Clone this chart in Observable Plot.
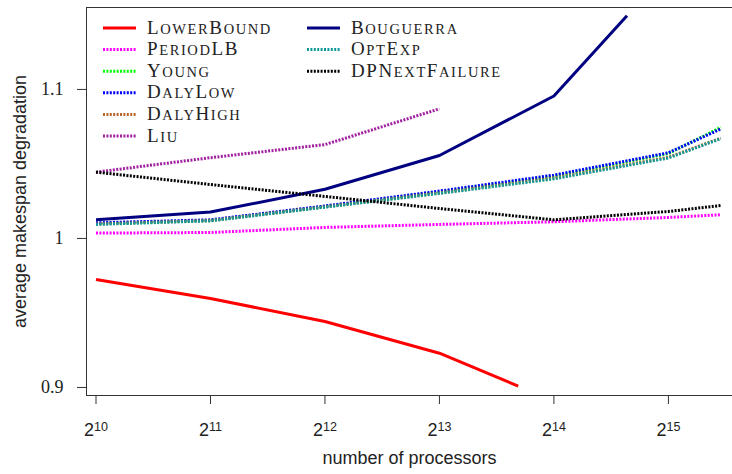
<!DOCTYPE html>
<html>
<head>
<meta charset="utf-8">
<script src="https://cdn.jsdelivr.net/npm/d3@7"></script>
<script src="https://cdn.jsdelivr.net/npm/@observablehq/plot@0.6"></script>
<style>
  body { margin: 0; background: #fff; }
</style>
</head>
<body>
<div id="chart"></div>
<script>
// ---- data ----
const processors = [1024, 2048, 4096, 8192, 16384, 32768, 45000];
const lowerBoundX = [1024, 2048, 4096, 8192, 13200];
const bouguerraX = [1024, 2048, 4096, 8192, 16384, 25500];
const liuX = [1024, 2048, 4096, 8192];

const lowerBound = [0.9725, 0.9597, 0.9443, 0.9230, 0.9009];
const periodLB = [1.0036, 1.0040, 1.0074, 1.0094, 1.0112, 1.0141, 1.0159];
const young = [1.0099, 1.0121, 1.0215, 1.0312, 1.0418, 1.0570, 1.0745];
const dalyLow = [1.0105, 1.0125, 1.0218, 1.0318, 1.0425, 1.0575, 1.0735];
const dalyHigh = [1.0097, 1.0120, 1.0212, 1.0305, 1.0405, 1.0545, 1.0673];
const liu = [1.0445, 1.0542, 1.0630, 1.0870];
const bouguerra = [1.0125, 1.0177, 1.0330, 1.0557, 1.0956, 1.1495];
const optExp = [1.0094, 1.0118, 1.0210, 1.0302, 1.0400, 1.0540, 1.0670];
const dpNextFailure = [1.0445, 1.0362, 1.0282, 1.0201, 1.0125, 1.0181, 1.0221];

const xTicks = [1024, 2048, 4096, 8192, 16384, 32768];
const yTicks = [0.9, 1, 1.1];
const xDomain = [2 ** 9.917, 2 ** 15.56];
const yDomain = [0.8946, 1.155];

const dotted = "2,1.4";
const series = [
  {name: "LowerBound", x: lowerBoundX, y: lowerBound, color: "#ff0000", dash: null},
  {name: "PeriodLB", x: processors, y: periodLB, color: "#ff00ff", dash: dotted},
  {name: "Young", x: processors, y: young, color: "#00ff00", dash: dotted},
  {name: "DalyLow", x: processors, y: dalyLow, color: "#0000ff", dash: dotted},
  {name: "DalyHigh", x: processors, y: dalyHigh, color: "#b8642a", dash: dotted},
  {name: "Liu", x: liuX, y: liu, color: "#a020a0", dash: dotted},
  {name: "Bouguerra", x: bouguerraX, y: bouguerra, color: "#000080", dash: null},
  {name: "OptExp", x: processors, y: optExp, color: "#109a9a", dash: dotted},
  {name: "DPNextFailure", x: processors, y: dpNextFailure, color: "#000000", dash: dotted}
];

const rows = series.flatMap(s => s.x.map((x, i) => ({name: s.name, x, y: s.y[i]})));

const lineMarks = series.map(s => Plot.line(rows.filter(r => r.name === s.name), {
  x: "x", y: "y", stroke: s.color, strokeWidth: 3,
  strokeDasharray: s.dash, strokeLinecap: "butt", strokeLinejoin: "round"
}));

const svg = Plot.plot({
  width: 732,
  height: 474,
  marginLeft: 86,
  marginTop: 7,
  marginBottom: 79,
  marginRight: 0,
  style: {fontFamily: "Liberation Sans", fontSize: "18px", color: "#222", background: "#fff", overflow: "visible"},
  x: {type: "log", base: 2, domain: xDomain},
  y: {domain: yDomain},
  marks: [
    Plot.ruleX([xDomain[0]], {stroke: "#333", strokeWidth: 1}),
    Plot.ruleY([yDomain[0], yDomain[1]], {stroke: "#333", strokeWidth: 1}),
    Plot.axisY({ticks: yTicks, tickSize: 9, tickPadding: 14, tickFormat: d => String(d),
      fontFamily: "Liberation Serif", fontSize: 18, label: null, stroke: "#333"}),
    Plot.axisX({ticks: xTicks, tickSize: 9, tickPadding: 19, tickFormat: d => "2^" + Math.round(Math.log2(d)),
      fontFamily: "Liberation Sans", fontSize: 18, label: null, stroke: "#333"}),
    Plot.text(["number of processors"], {frameAnchor: "bottom", dy: 68, fontSize: 18, fill: "#222"}),
    Plot.text(["average makespan degradation"], {frameAnchor: "left", dx: -66, rotate: -90, textAnchor: "middle", fontSize: 18, fill: "#222"}),
    ...lineMarks
  ]
});

document.getElementById("chart").appendChild(svg);

// superscript tick labels
d3.select(svg).selectAll('g[aria-label="x-axis tick label"] text').each(function() {
  const t = d3.select(this);
  const [base, exp] = t.text().split("^");
  t.text(null);
  t.append("tspan").text(base);
  t.append("tspan").attr("dy", "-0.45em").attr("font-size", "12.5px").text(exp);
});

// legend
const legend = d3.select(svg).append("g")
  .attr("font-family", "Liberation Serif").attr("fill", "#222").attr("text-anchor", "start");
const cols = [{lx: 103, tx: 147}, {lx: 307, tx: 351}];
const rowY = [28, 49.6, 71.2, 92.8, 114.4, 136];
series.forEach((s, i) => {
  const col = i < 6 ? cols[0] : cols[1];
  const y = i < 6 ? rowY[i] : rowY[i - 6];
  legend.append("line")
    .attr("x1", col.lx).attr("x2", col.lx + 33).attr("y1", y).attr("y2", y)
    .attr("stroke", s.color).attr("stroke-width", 3)
    .attr("stroke-dasharray", s.dash);
  const text = legend.append("text").attr("x", col.tx).attr("y", y + 5.5)
    .attr("text-anchor", "start").attr("letter-spacing", "1.6px");
  for (const ch of s.name) {
    const up = ch === ch.toUpperCase();
    text.append("tspan").attr("font-size", up ? "19px" : "14.5px").text(ch.toUpperCase());
  }
});
</script>
</body>
</html>
